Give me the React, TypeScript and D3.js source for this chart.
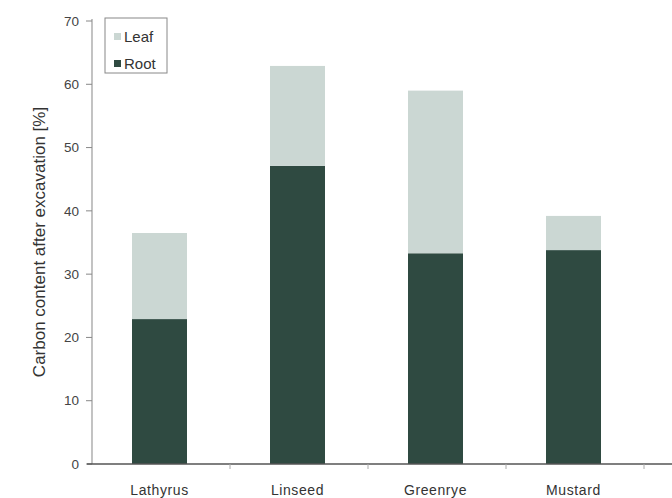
import React from "react";
import * as d3 from "d3";

const categories = ["Lathyrus", "Linseed", "Greenrye", "Mustard"];
const rootValues = [22.9, 47.1, 33.3, 33.8];
const totalValues = [36.5, 62.9, 59.0, 39.2];
const leafValues = totalValues.map((t, i) => t - rootValues[i]);
const yTicks = [0, 10, 20, 30, 40, 50, 60, 70];
const seriesNames = ["Leaf", "Root"];

const W = 672;
const H = 498;
const x0 = 92;
const yBottom = 464;
const yTop = 21;
const bandW = 138;

export default function App() {
  const y = d3.scaleLinear().domain([0, 70]).range([yBottom, yTop]);
  const rows = categories.map((c, i) => ({ c, Root: rootValues[i], Leaf: leafValues[i] }));
  const stack = d3.stack<any>().keys(["Root", "Leaf"])(rows);
  const colors: Record<string, string> = { Root: "#2f4a41", Leaf: "#cbd7d3" };
  const font = "Arial, 'Liberation Sans', sans-serif";
  const bw = 55;
  const bandStep = bandW;

  return (
    <svg width={W} height={H} style={{ position: "absolute", left: 0, top: 0, background: "#fff" }} fontFamily={font}>
      {stack.map((s) =>
        s.map((d, i) => {
          const cx = x0 + bandStep * i + 40;
          return (
            <rect
              key={s.key + i}
              x={cx}
              y={y(d[1])}
              width={bw}
              height={y(d[0]) - y(d[1])}
              fill={colors[s.key]}
            />
          );
        })
      )}
      {/* y axis */}
      <line x1={x0} x2={x0} y1={yTop - 2} y2={yBottom} stroke="#9a9a9a" strokeWidth={1.2} />
      {yTicks.map((t) => (
        <g key={t}>
          <line x1={x0 - 6} x2={x0} y1={y(t)} y2={y(t)} stroke="#888" strokeWidth={1} />
          <text x={79} y={y(t)} dy="0.35em" textAnchor="end" fontSize={13.5} fill="#444">
            {t}
          </text>
        </g>
      ))}
      {/* x axis */}
      <line x1={87} x2={W} y1={yBottom} y2={yBottom} stroke="#555" strokeWidth={1.3} />
      {categories.map((c, i) => (
        <line
          key={"t" + c}
          x1={x0 + bandStep * (i + 1)}
          x2={x0 + bandStep * (i + 1)}
          y1={yBottom}
          y2={yBottom + 5}
          stroke="#aaa"
          strokeWidth={1}
        />
      ))}
      {categories.map((c, i) => (
        <text
          key={c}
          x={x0 + bandStep * i + 40 + bw / 2}
          y={495}
          textAnchor="middle"
          fontSize={14}
          letterSpacing={0.6}
          fill="#333"
        >
          {c}
        </text>
      ))}
      {/* y title */}
      <text
        transform={`translate(45, ${242}) rotate(-90)`}
        textAnchor="middle"
        fontSize={17}
        fill="#333"
      >
        Carbon content after excavation [%]
      </text>
      {/* legend */}
      <rect x={105} y={18} width={62} height={55} fill="#fff" stroke="#888" strokeWidth={1} />
      {seriesNames.map((n, i) => (
        <g key={n}>
          <rect x={114} y={33 + i * 27} width={7} height={7} fill={colors[n]} />
          <text x={124} y={42 + i * 27} fontSize={15} fill="#333">
            {n}
          </text>
        </g>
      ))}
    </svg>
  );
}
